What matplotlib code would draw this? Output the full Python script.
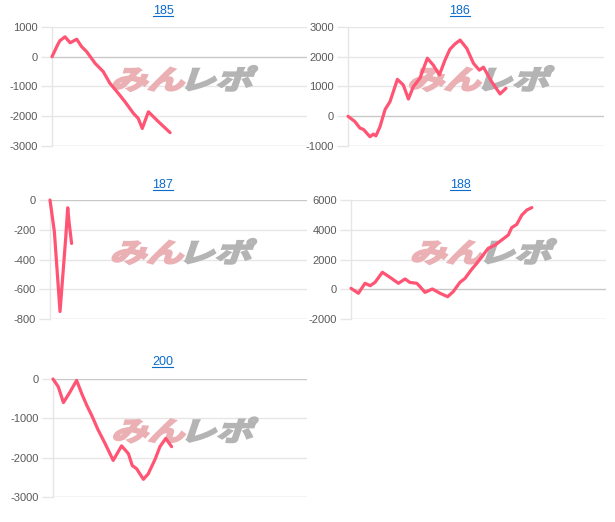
"""
Grafico de diferenca de moedas por maquina (5 paineis pequenos).
"""

import matplotlib
matplotlib.use("Agg")
import matplotlib.pyplot as plt
from matplotlib.font_manager import FontProperties
from matplotlib.lines import Line2D
from matplotlib.patches import PathPatch
from matplotlib.textpath import TextPath
from matplotlib.transforms import Affine2D, IdentityTransform


# ============================================================================
# DADOS (x = posicao no eixo em % do total de jogos, y = diferenca de moedas)
# ============================================================================
X_MAX = 100

TITLES = ["185", "186", "187", "188", "200"]

X_185 = [0, 2.2, 3.1, 5.1, 7.1, 9.7, 11.6, 13.6, 16.9, 20.1, 22.7, 26.0, 28.6,
         31.9, 33.8, 35.4, 37.8, 41.7, 46.3]
Y_185 = [0, 400, 540, 670, 470, 590, 340, 170, -220, -500, -890, -1230, -1510,
         -1900, -2070, -2410, -1850, -2180, -2550]

X_186 = [0, 2.7, 4.7, 6.0, 8.6, 9.9, 10.9, 12.5, 14.5, 16.4, 19.3, 21.6, 23.6,
         25.5, 28.1, 31.0, 33.3, 35.7, 37.9, 39.8, 41.8, 43.8, 46.4, 49.0,
         51.3, 52.9, 56.1, 59.4, 61.7]
Y_186 = [0, -180, -400, -440, -690, -600, -660, -350, 230, 490, 1240, 1050, 580,
         990, 1280, 1950, 1720, 1390, 1890, 2250, 2430, 2560, 2280, 1780,
         1550, 1650, 1160, 750, 940]

X_187 = [0, 1.7, 3.9, 5.2, 6.1, 6.9, 7.4, 8.4]
Y_187 = [0, -213, -750, -460, -258, -52, -146, -292]

X_188 = [0, 2.9, 5.5, 7.5, 9.4, 12.3, 15.3, 18.6, 21.2, 23.1, 25.8, 27.1, 29.0,
         31.9, 34.9, 37.9, 40.1, 42.7, 44.7, 47.1, 49.3, 51.3, 53.8, 56.5,
         59.1, 61.7, 63.0, 65.0, 67.0, 69.0, 70.9]
Y_188 = [60, -270, 400, 240, 460, 1140, 800, 400, 690, 460, 400, 170, -210,
         20, -270, -500, -160, 460, 730, 1290, 1740, 2190, 2750, 2970,
         3310, 3650, 4140, 4360, 4990, 5330, 5490]

X_200 = [0, 2.1, 4.1, 6.7, 9.3, 11.3, 13.3, 15.2, 17.8, 20.5, 23.7, 27.0, 29.7,
         31.2, 32.9, 35.6, 37.5, 40.2, 42.1, 44.4, 46.7]
Y_200 = [0, -200, -600, -330, -35, -370, -670, -920, -1300, -1640, -2070, -1700,
         -1900, -2200, -2280, -2550, -2410, -2040, -1720, -1510, -1720]

YTICKS = [
    [1000, 0, -1000, -2000, -3000],
    [3000, 2000, 1000, 0, -1000],
    [0, -200, -400, -600, -800],
    [6000, 4000, 2000, 0, -2000],
    [0, -1000, -2000, -3000],
]

SERIES = [(X_185, Y_185), (X_186, Y_186), (X_187, Y_187),
          (X_188, Y_188), (X_200, Y_200)]

# ============================================================================
# ESTILO / LAYOUT (pixels da figura 615x522)
# ============================================================================
W, H = 615, 522
LINE_COLOR = "#ff5473"
GRID_COLOR = "#e6e6e6"
ZERO_COLOR = "#c8c8c8"
TICK_COLOR = "#5a5a5a"
LINK_COLOR = "#0b6bcb"

# (esquerda, topo, largura, altura) do plot em px
BOXES = [
    (52, 27, 255, 119),
    (348, 27, 256, 119),
    (50, 200, 257, 119),
    (351, 200, 255, 119),
    (53, 379, 254, 118),
]
# centro do titulo (x, y) em px
TITLE_POS = [(163, 11), (460, 11), (163, 185), (460, 185), (163, 362)]

plt.rcParams.update({
    "font.family": ["Liberation Sans", "DejaVu Sans"],
})

fig = plt.figure(figsize=(W / 100, H / 100), dpi=100)

wm_font = FontProperties(family="Noto Sans CJK JP", weight="bold")
path_pink = TextPath((0, 0), "みん", size=10, prop=wm_font)
path_gray = TextPath((0, 0), "レポ", size=10, prop=wm_font)


def add_watermark(ax, left, top, width, height):
    """Logo 'みんレポ' inclinado no centro do painel."""
    e1 = path_pink.get_extents()
    e2 = path_gray.get_extents()
    gap = 1.0
    total_w = e1.width + gap + e2.width
    total_h = max(e1.y1, e2.y1) - min(e1.y0, e2.y0)
    sx = 138 / total_w
    sy = 25 / total_h
    cx = left + width / 2 + 2
    cy = H - (top + height / 2 - 8)
    base_x = cx - 140 / 2
    base_y = cy - 25 / 2
    y0 = min(e1.y0, e2.y0)
    for path, ext, off, color in [
        (path_pink, e1, 0, "#eab0b4"),
        (path_gray, e2, e1.width + gap, "#b4b4b4"),
    ]:
        tr = (Affine2D()
              .translate(-ext.x0 + off, -y0)
              .skew_deg(14, 0)
              .scale(sx, sy)
              .translate(base_x, base_y))
        patch = PathPatch(path, transform=tr + IdentityTransform(),
                          facecolor=color, edgecolor=color, lw=1.6,
                          joinstyle="miter", zorder=1.5)
        ax.add_artist(patch)


titles = []
for i, (box, (xs, ys), ticks) in enumerate(zip(BOXES, SERIES, YTICKS)):
    left, top, width, height = box
    ax = fig.add_axes([left / W, 1 - (top + height) / H, width / W, height / H])
    ax.set_facecolor("none")

    ax.set_xlim(0, X_MAX)
    ax.set_ylim(min(ticks), max(ticks))
    ax.set_yticks(ticks)
    ax.set_yticklabels([str(t) for t in ticks])
    ax.set_xticks([])

    for t in ticks:
        c = ZERO_COLOR if t == 0 or t == min(ticks) else GRID_COLOR
        ax.axhline(t, color=c, lw=1, zorder=0.5)

    for side in ["top", "right", "bottom"]:
        ax.spines[side].set_visible(False)
    ax.spines["left"].set_color(GRID_COLOR)
    ax.spines["left"].set_linewidth(1)

    ax.tick_params(axis="y", length=8, width=1, color=GRID_COLOR, pad=2,
                   labelsize=8, labelcolor=TICK_COLOR)

    ax.plot(xs, ys, color=LINE_COLOR, lw=2.3, zorder=3,
            solid_joinstyle="round", solid_capstyle="round", clip_on=False)

    add_watermark(ax, left, top, width, height)

    tx, ty = TITLE_POS[i]
    t = fig.text(tx / W, 1 - ty / H, TITLES[i], ha="center", va="center",
                 fontsize=9, color=LINK_COLOR)
    titles.append(t)

# sublinhado dos titulos (estilo link)
fig.canvas.draw()
renderer = fig.canvas.get_renderer()
for t in titles:
    bb = t.get_window_extent(renderer)
    y = bb.y0 + 1.5
    fig.add_artist(Line2D([bb.x0, bb.x1], [y, y], transform=IdentityTransform(),
                          color=LINK_COLOR, lw=0.8))

fig.savefig("out.png", dpi=100)
